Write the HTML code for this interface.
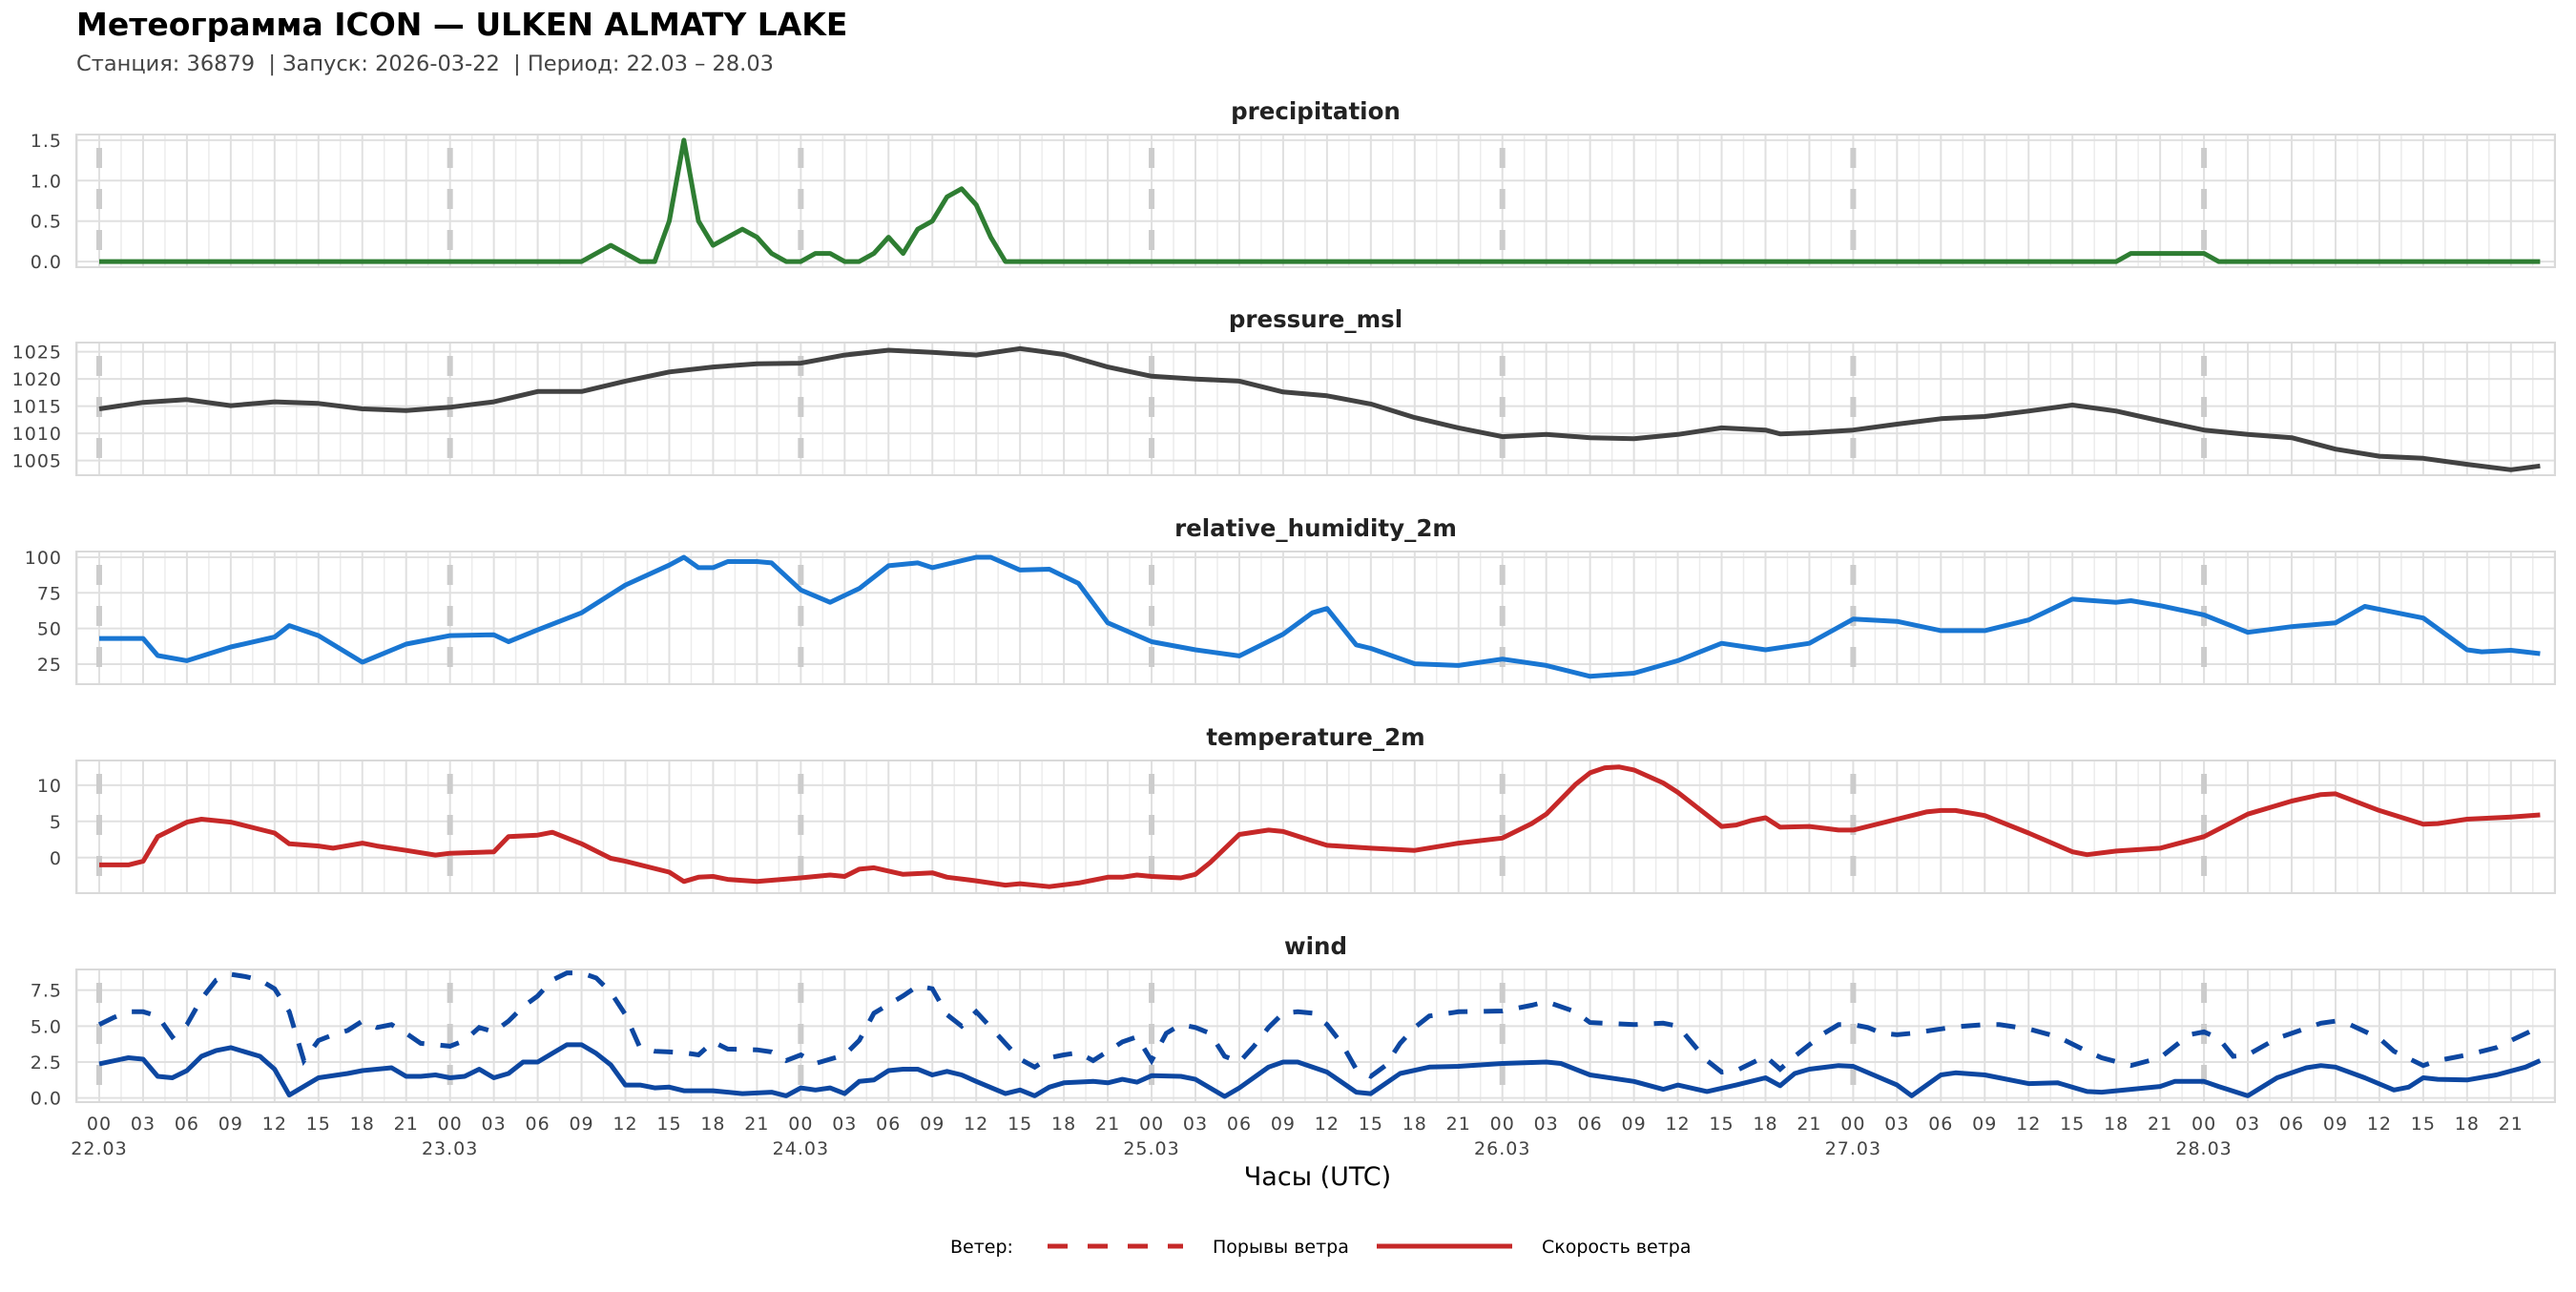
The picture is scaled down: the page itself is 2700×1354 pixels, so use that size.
<!DOCTYPE html>
<html><head><meta charset="utf-8">
<style>
html,body{margin:0;padding:0;background:#fff;}
body{width:2700px;height:1350px;overflow:hidden;font-family:"DejaVu Sans","Liberation Sans",sans-serif;}
</style></head>
<body>
<svg id="chart" width="2700" height="1350" xmlns="http://www.w3.org/2000/svg" font-family="DejaVu Sans, Liberation Sans, sans-serif">
<text x="80" y="37" font-size="33" font-weight="bold" fill="#000">Метеограмма ICON — ULKEN ALMATY LAKE</text>
<text x="80" y="74" font-size="22.5" fill="#444" xml:space="preserve">Станция: 36879  | Запуск: 2026-03-22  | Период: 22.03 – 28.03</text>
<text x="1381" y="1242" font-size="27" text-anchor="middle" fill="#000">Часы (UTC)</text>
<g>
<text x="996" y="1313" font-size="19" fill="#000">Ветер:</text>
<line x1="1098" y1="1306" x2="1240" y2="1306" stroke="#c62828" stroke-width="5" stroke-dasharray="21 21"/>
<text x="1271" y="1313" font-size="19" fill="#000">Порывы ветра</text>
<line x1="1443" y1="1306" x2="1585" y2="1306" stroke="#c62828" stroke-width="5"/>
<text x="1616" y="1313" font-size="19" fill="#000">Скорость ветра</text>
</g>
</svg>
<script>
// ---------- data ----------
const precipHours = [0,33,35,37,38,39,40,41,42,43,44,45,46,47,48,49,50,51,52,53,54,55,56,57,58,59,60,61,62,138,139,144,145,167];
const precipValues = [0,0,0.2,0,0,0.5,1.5,0.5,0.2,0.3,0.4,0.3,0.1,0,0,0.1,0.1,0,0,0.1,0.3,0.1,0.4,0.5,0.8,0.9,0.7,0.3,0,0,0.1,0.1,0,0];

const pressureHours = [0,3,6,9,12,15,18,21,24,27,30,33,36,39,42,45,48,51,54,57,60,63,66,69,72,75,78,81,84,87,90,93,96,99,102,105,108,111,114,115,117,120,123,126,129,132,135,138,141,144,147,150,153,156,159,162,165,167];
const pressureValues = [1014.5,1015.7,1016.2,1015.1,1015.8,1015.5,1014.5,1014.2,1014.8,1015.8,1017.7,1017.7,1019.6,1021.3,1022.2,1022.8,1022.9,1024.4,1025.3,1024.9,1024.4,1025.6,1024.5,1022.2,1020.5,1020.0,1019.6,1017.6,1016.9,1015.4,1012.9,1011.0,1009.4,1009.8,1009.2,1009.0,1009.8,1011.0,1010.6,1009.9,1010.1,1010.6,1011.7,1012.7,1013.1,1014.1,1015.2,1014.1,1012.3,1010.6,1009.8,1009.2,1007.1,1005.8,1005.4,1004.3,1003.3,1004.0];

const rhHours = [0,3,4,6,9,12,13,15,18,21,24,27,28,30,33,36,39,40,41,42,43,45,46,48,50,52,54,56,57,60,61,63,65,67,69,72,75,78,81,83,84,86,87,90,93,96,99,102,105,108,111,114,117,120,123,126,129,132,135,138,139,141,144,147,150,153,155,159,162,163,165,167];
const rhValues = [43,43,31,27.4,37,44,52,45,26.3,39,45,45.6,40.7,49,61,80.5,94.5,100,92.7,92.7,97,97,96,77,68.4,78,94,96,92.7,100,100,91,91.6,81.6,54,40.7,35,30.7,46,61,64,38.5,36,25.2,24,28.5,24,16.4,18.6,27.4,39.6,35,39.6,56.6,55,48.5,48.5,56,70.6,68.4,69.5,66,59.5,47.3,51.3,54,65.5,57.3,35,33.6,34.7,32.3];

const tempHours = [0,2,3,4,6,7,9,12,13,15,16,18,19,21,23,24,27,28,30,31,33,35,36,39,40,41,42,43,45,48,50,51,52,53,55,57,58,60,62,63,65,67,69,70,71,72,74,75,76,78,80,81,83,84,87,90,93,96,98,99,101,102,103,104,105,107,108,111,112,113,114,115,117,119,120,123,125,126,127,129,132,135,136,138,141,144,147,150,152,153,156,159,160,162,165,167];
const tempValues = [-1.0,-1.0,-0.5,2.9,4.9,5.3,4.9,3.4,1.9,1.6,1.3,2.0,1.6,1.0,0.35,0.6,0.8,2.9,3.1,3.5,1.9,-0.1,-0.5,-2.0,-3.3,-2.7,-2.6,-3.0,-3.3,-2.8,-2.4,-2.6,-1.6,-1.4,-2.3,-2.1,-2.7,-3.2,-3.8,-3.6,-4.0,-3.5,-2.7,-2.7,-2.4,-2.6,-2.8,-2.3,-0.7,3.2,3.8,3.6,2.3,1.7,1.3,1.0,2.0,2.7,4.7,6.0,10.1,11.7,12.4,12.5,12.1,10.3,9.0,4.3,4.5,5.1,5.5,4.2,4.3,3.8,3.8,5.3,6.3,6.5,6.5,5.8,3.4,0.8,0.4,0.9,1.3,2.9,6.0,7.8,8.7,8.8,6.5,4.6,4.7,5.3,5.6,5.9];

const windHours = [0,2,3,4,5,6,7,8,9,11,12,13,15,17,18,20,21,22,23,24,25,26,27,28,29,30,31,32,33,34,35,36,37,38,39,40,42,44,46,47,48,49,50,51,52,53,54,55,56,57,58,59,60,62,63,64,65,66,68,69,70,71,72,74,75,76,77,78,80,81,82,83,84,86,87,89,91,93,96,99,100,102,105,107,108,110,112,114,115,116,117,119,120,123,124,126,127,129,132,134,136,137,139,141,142,144,145,147,149,151,152,153,155,157,158,159,160,162,164,166,167];
const windSpeed = [2.37,2.8,2.7,1.5,1.4,1.9,2.9,3.3,3.5,2.9,2.0,0.2,1.4,1.7,1.9,2.1,1.5,1.5,1.6,1.4,1.5,2.0,1.4,1.7,2.5,2.5,3.1,3.7,3.7,3.1,2.3,0.9,0.9,0.7,0.75,0.5,0.5,0.3,0.4,0.15,0.7,0.55,0.7,0.3,1.15,1.25,1.9,2.0,2.0,1.6,1.85,1.6,1.15,0.3,0.55,0.15,0.75,1.05,1.15,1.05,1.3,1.1,1.55,1.5,1.3,0.7,0.1,0.7,2.15,2.5,2.5,2.15,1.8,0.4,0.3,1.7,2.15,2.2,2.4,2.5,2.4,1.6,1.15,0.6,0.9,0.45,0.9,1.4,0.85,1.7,2.0,2.25,2.2,0.9,0.15,1.6,1.75,1.6,1.0,1.05,0.45,0.4,0.6,0.8,1.15,1.15,0.8,0.15,1.4,2.1,2.25,2.15,1.4,0.55,0.75,1.4,1.3,1.25,1.6,2.15,2.6];

const gustHours = [0,1,2,3,4,5,6,7,8,9,10,11,12,13,14,15,16,17,18,19,20,21,22,23,24,25,26,27,28,29,30,31,32,33,34,35,36,37,38,39,40,41,42,43,45,46,47,48,49,50,51,52,53,54,55,56,57,58,59,60,61,62,63,64,65,66,67,68,69,70,71,72,73,74,75,76,77,78,79,80,81,82,83,84,85,86,87,88,89,90,91,93,96,98,99,101,102,105,107,108,109,110,111,112,113,114,115,116,117,118,119,120,121,122,123,124,126,127,129,130,132,134,136,137,139,141,143,144,145,146,147,149,150,152,153,154,156,157,159,160,162,164,165,167];
const gustValues = [5.1,5.6,6.0,6.0,5.7,4.25,5.1,6.9,8.2,8.6,8.45,8.2,7.6,6.0,2.6,4.0,4.4,4.7,5.35,4.9,5.1,4.5,3.8,3.7,3.6,4.0,4.9,4.6,5.35,6.35,7.1,8.2,8.7,8.7,8.35,7.35,5.8,3.5,3.25,3.2,3.15,3.0,3.9,3.4,3.35,3.2,2.6,3.0,2.4,2.7,3.0,4.0,5.9,6.5,7.1,7.8,7.6,5.8,5.0,6.0,4.9,3.8,2.7,2.15,2.8,3.0,3.15,2.6,3.25,3.9,4.25,2.6,4.5,5.1,4.9,4.5,2.9,2.5,3.6,4.9,5.9,6.0,5.9,5.1,3.8,2.0,1.5,2.25,3.8,4.9,5.7,6.0,6.05,6.45,6.7,6.0,5.25,5.1,5.2,5.0,3.8,2.6,1.8,1.9,2.4,2.9,2.0,2.9,3.7,4.5,5.1,5.1,4.9,4.5,4.4,4.5,4.8,4.95,5.1,5.1,4.8,4.25,3.25,2.8,2.25,2.8,4.4,4.6,4.15,2.9,3.0,4.15,4.5,5.2,5.35,5.1,4.15,3.25,2.25,2.6,3.0,3.5,4.0,4.95];

const hourTickLabels = ["00","03","06","09","12","15","18","21"];
const dateTickLabels = ["22.03","23.03","24.03","25.03","26.03","27.03","28.03"];

// ---------- layout ----------
const NS = "http://www.w3.org/2000/svg";
const svg = document.getElementById("chart");
const PL = 80, PR = 2678, X0 = 104, PX_PER_H = 15.32;
function xScale(h){ return X0 + h * PX_PER_H; }
function mk(tag, attrs, parent){
  const e = document.createElementNS(NS, tag);
  for (const k in attrs) e.setAttribute(k, attrs[k]);
  (parent || svg).appendChild(e);
  return e;
}
const panels = [
  {name:"precipitation", top:141, lo:-0.07, hi:1.57, ticks:[0,0.5,1.0,1.5], fmt:v=>v.toFixed(1)},
  {name:"pressure_msl", top:359, lo:1002.3, hi:1026.7, ticks:[1005,1010,1015,1020,1025], fmt:v=>String(v)},
  {name:"relative_humidity_2m", top:578, lo:10.9, hi:104, ticks:[25,50,75,100], fmt:v=>String(v)},
  {name:"temperature_2m", top:797, lo:-4.9, hi:13.4, ticks:[0,5,10], fmt:v=>String(v)},
  {name:"wind", top:1016, lo:-0.29, hi:8.94, ticks:[0,2.5,5.0,7.5], fmt:v=>v.toFixed(1)}
];
const PH = 139;
function yScaleFor(p){ return v => p.top + PH - (v - p.lo) / (p.hi - p.lo) * PH; }

function drawPanel(p, idx){
  const g = mk("g", {});
  
  
  const y = yScaleFor(p);
  const t = mk("text", {x:(PL+PR)/2, y:p.top-16, "font-size":24.5, "font-weight":"bold", "text-anchor":"middle", fill:"#222"}, g);
  t.textContent = p.name;
  
  
  for (let k = -1; k <= 113; k++) {
    const h = k * 1.5;
    const x = xScale(h);
    if (x < PL || x > PR) continue;
    const major = (k % 2 === 0);
    mk("line", {x1:x, x2:x, y1:p.top, y2:p.top+PH, stroke: major ? "#e0e0e0" : "#ececec", "stroke-width": major ? 2 : 1.5}, g);
  }
  p.ticks.forEach((v, i) => {
    mk("line", {x1:PL, x2:PR, y1:y(v), y2:y(v), stroke:"#e0e0e0", "stroke-width":2}, g);
    const lbl = mk("text", {x:65, y:y(v)+7, "font-size":19, "text-anchor":"end", fill:"#444", "letter-spacing":"1"}, g);
    lbl.textContent = p.fmt(v);
    
    
  });
  mk("rect", {x:PL, y:p.top, width:PR-PL, height:PH, fill:"none", stroke:"#d9d9d9", "stroke-width":2}, g);
  for (let d = 0; d < 7; d++) {
    const x = xScale(d*24);
    const dl = mk("line", {x1:x, x2:x, y1:p.top+14, y2:p.top+PH, stroke:"#cccccc", "stroke-width":6, "stroke-dasharray":"21 22"}, g);
    
    
  }
  return {g, y};
}
function pathFrom(hours, vals, y){
  return hours.map((h,i)=>(i?"L":"M")+xScale(h).toFixed(1)+","+y(vals[i]).toFixed(1)).join(" ");
}

const P = panels.map(drawPanel);

let e;
e = mk("path", {d:pathFrom(precipHours, precipValues, P[0].y), fill:"none", stroke:"#2e7d32", "stroke-width":5, "stroke-linejoin":"round"}, P[0].g);


e = mk("path", {d:pathFrom(pressureHours, pressureValues, P[1].y), fill:"none", stroke:"#424242", "stroke-width":5, "stroke-linejoin":"round"}, P[1].g);


e = mk("path", {d:pathFrom(rhHours, rhValues, P[2].y), fill:"none", stroke:"#1976d2", "stroke-width":5, "stroke-linejoin":"round"}, P[2].g);


e = mk("path", {d:pathFrom(tempHours, tempValues, P[3].y), fill:"none", stroke:"#c62828", "stroke-width":5, "stroke-linejoin":"round"}, P[3].g);


e = mk("path", {d:pathFrom(gustHours, gustValues, P[4].y), fill:"none", stroke:"#0d47a1", "stroke-width":5, "stroke-dasharray":"20 17"}, P[4].g);


e = mk("path", {d:pathFrom(windHours, windSpeed, P[4].y), fill:"none", stroke:"#0d47a1", "stroke-width":5, "stroke-linejoin":"round"}, P[4].g);



const xg = mk("g", {});


for (let d = 0; d < 7; d++) {
  for (let j = 0; j < 8; j++) {
    const h = d*24 + j*3;
    const t = mk("text", {x:xScale(h), y:1184, "font-size":19, "text-anchor":"middle", fill:"#444", "letter-spacing":"1"}, xg);
    t.textContent = hourTickLabels[j];
    
    
  }
  const dt = mk("text", {x:xScale(d*24), y:1210, "font-size":19, "text-anchor":"middle", fill:"#444", "letter-spacing":"1"}, xg);
  dt.textContent = dateTickLabels[d];
  
  
}
</script>
</body></html>
